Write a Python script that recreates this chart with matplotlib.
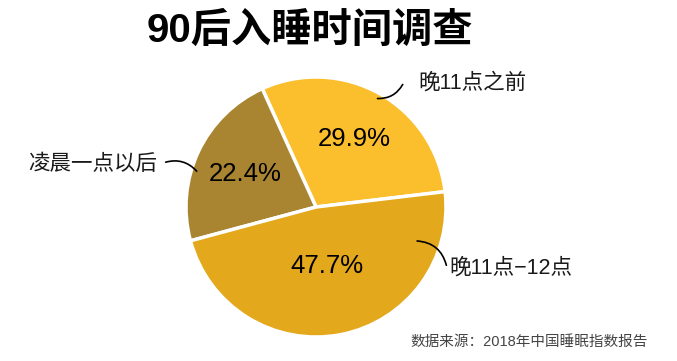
import matplotlib.pyplot as plt
import numpy as np

# --- datos ---
title = "90后入睡时间调查"
labels = ["晚11点之前", "凌晨一点以后", "晚11点−12点"]
values = [29.9, 22.4, 47.7]
colors = ["#FBBE2C", "#A98532", "#E3A81C"]
source = "数据来源：2018年中国睡眠指数报告"

W, H = 677, 361
cx, cy, R = 316, 154, 130  # centro y radio del pastel en pixeles

fig = plt.figure(figsize=(W / 100, H / 100), dpi=100)
ax = fig.add_axes([0, 0, 1, 1])

wedges, texts, autotexts = ax.pie(
    values, colors=colors, startangle=6.8, counterclock=True,
    autopct="%.1f%%", pctdistance=0.6,
    wedgeprops=dict(edgecolor="white", linewidth=2.5),
    textprops=dict(fontsize=18.5, family=["Liberation Sans", "Noto Sans CJK SC"], color="black"),
)
autotexts[2].set_position((0.46 * np.cos(np.radians(-79)), 0.46 * np.sin(np.radians(-79))))

ax.set_aspect("auto")
ax.set_xlim(-cx / R, (W - cx) / R)
ax.set_ylim(-cy / R, (H - cy) / R)
ax.axis("off")

# --- etiquetas con lineas curvas ---
fam = ["Liberation Sans", "Noto Sans CJK SC"]
label_pos = [(418, 83), (157, 164), (449, 268)]   # pixeles (x, y desde arriba)
label_ha = ["left", "right", "left"]
anchor = [(61.6, 0.95), (164, 0.94), (-19, 0.80)]  # angulo, radio
line_end = [(404, 82), (163, 163), (447, 268)]
rads = [-0.35, -0.35, 0.4]

def px(x, y):
    return ((x - cx) / R, (H - y - cy) / R)

for lab, pos, ha, (ang, r), end, rad in zip(labels, label_pos, label_ha, anchor, line_end, rads):
    x0, y0 = r * np.cos(np.radians(ang)), r * np.sin(np.radians(ang))
    ax.annotate("", xy=(x0, y0), xytext=px(*end),
                arrowprops=dict(arrowstyle="-", color="black", lw=1.2,
                                connectionstyle=f"arc3,rad={rad}"))
    ax.text(*px(*pos), lab, ha=ha, va="center", fontsize=15.5, family=fam, color="#1a1a1a")

fig.text(310 / W, 1 - 31 / H, title, ha="center", va="center", fontsize=29,
         fontweight="bold", family=fam, color="black")
fig.text(648 / W, 1 - 342 / H, source, ha="right", va="center", fontsize=10.5,
         family=fam, color="#444444")

fig.savefig("out.png", dpi=100)
